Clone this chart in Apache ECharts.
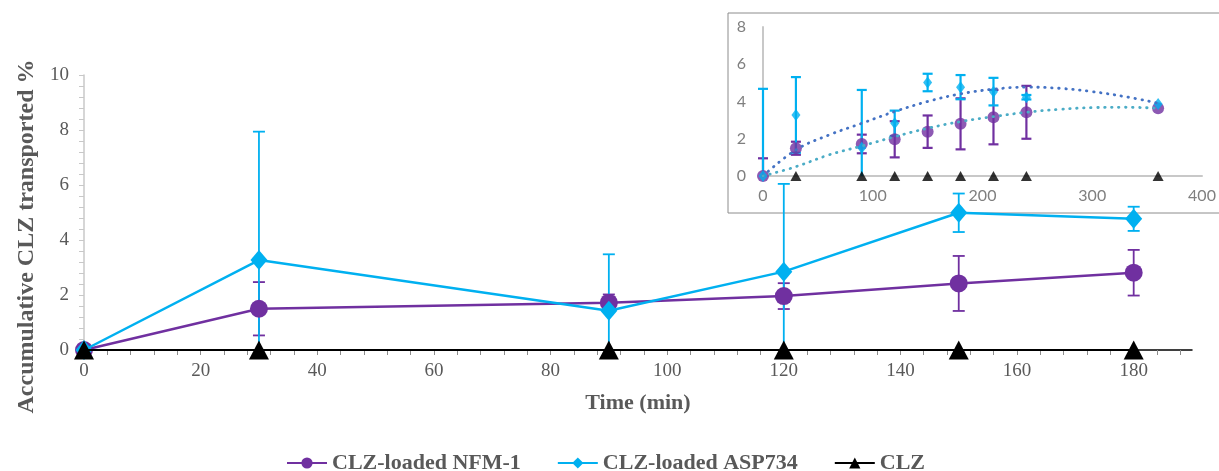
<!DOCTYPE html>
<html>
<head>
<meta charset="utf-8">
<script src="https://cdn.jsdelivr.net/npm/echarts@6/dist/echarts.min.js"></script>
<style>
html,body{margin:0;padding:0;background:#fff;}
#chart{width:1219px;height:471px;}
</style>
</head>
<body>
<div id="chart"></div>
<script>
// ---------- Main chart data ----------
const mainTimes = [0, 30, 90, 120, 150, 180];
const nfmMain = [0, 1.5, 1.72, 1.96, 2.42, 2.81];
const nfmMainErr = [0, 0.97, 0.3, 0.47, 1.0, 0.83];
const aspMain = [0, 3.27, 1.43, 2.85, 4.99, 4.77];
const aspMainErr = [0, 4.67, 2.05, 3.19, 0.7, 0.44];
const clzMain = [0, 0, 0, 0, 0, 0];

// ---------- Inset chart data ----------
const insetTimes = [0, 30, 90, 120, 150, 180, 210, 240, 360];
const nfmInset = [0, 1.49, 1.72, 1.97, 2.38, 2.8, 3.16, 3.42, 3.64];
const nfmInsetErr = [0.95, 0.35, 0.5, 0.97, 0.87, 1.37, 1.46, 1.42, 0];
const aspInset = [0, 3.28, 1.52, 2.83, 5.02, 4.77, 4.53, 4.23, 3.87];
const aspInsetErr = [4.68, 2.03, 3.1, 0.68, 0.47, 0.65, 0.74, 0.12, 0];
const clzInsetTimes = [30, 90, 120, 150, 180, 210, 240, 360];
const clzInset = [0, 0, 0, 0, 0, 0, 0, 0];

// trendlines
const trendTimes = [0, 30, 60, 90, 120, 150, 180, 210, 240, 270, 300, 330, 360];
const aspTrend = [0, 1.4, 2.2, 2.83, 3.46, 4.0, 4.41, 4.66, 4.77, 4.71, 4.53, 4.26, 3.91];
const nfmTrend = [0, 0.5, 1.13, 1.61, 2.11, 2.56, 2.92, 3.19, 3.42, 3.58, 3.67, 3.69, 3.64];

// ---------- Labels ----------
const seriesNames = ['CLZ-loaded NFM-1', 'CLZ-loaded ASP734', 'CLZ'];
const xTitle = 'Time (min)';
const yTitle = 'Accumulative CLZ transported %';

const PURPLE = '#7030A0', BLUE = '#00B0F0', BLACK = '#000000';
const SERIF = '"Liberation Serif", "Times New Roman", serif';
const SANS = 'Lato, "Open Sans", sans-serif';

function pairs(xs, ys) { return xs.map((x, i) => [x, ys[i]]); }
function triples(xs, ys, es) { return xs.map((x, i) => [x, ys[i], es[i]]); }

function errorSeries(data, color, gi, capW, lw) {
  return {
    type: 'custom',
    xAxisIndex: gi, yAxisIndex: gi,
    z: 2,
    silent: true,
    clip: false,
    data: data,
    renderItem: function (params, api) {
      const x = api.value(0), y = api.value(1), e = api.value(2);
      if (!e) return null;
      const lowV = Math.max(y - e, 0);
      const top = api.coord([x, y + e]);
      const bot = api.coord([x, lowV]);
      const style = { stroke: color, lineWidth: lw };
      const children = [
        { type: 'line', shape: { x1: top[0], y1: top[1], x2: bot[0], y2: bot[1] }, style: style },
        { type: 'line', shape: { x1: top[0] - capW / 2, y1: top[1], x2: top[0] + capW / 2, y2: top[1] }, style: style }
      ];
      if (y - e >= 0) {
        children.push({ type: 'line', shape: { x1: bot[0] - capW / 2, y1: bot[1], x2: bot[0] + capW / 2, y2: bot[1] }, style: style });
      }
      return { type: 'group', children: children };
    }
  };
}

const chart = echarts.init(document.getElementById('chart'), null, { renderer: 'canvas' });

const option = {
  backgroundColor: '#ffffff',
  animation: false,
  graphic: [{
    type: 'rect', z: 0, silent: true,
    shape: { x: 728, y: 13, width: 520, height: 200 },
    style: { fill: 'none', stroke: '#8c8c8c', lineWidth: 1 }
  }],
  legend: {
    data: seriesNames,
    left: 281,
    top: 447,
    itemWidth: 40,
    itemHeight: 14,
    itemGap: 36,
    textStyle: { fontFamily: SERIF, fontWeight: 'bold', fontSize: 22, color: '#595959' }
  },
  grid: [
    { left: 84, right: 27, top: 75, bottom: 121 },
    { left: 763, right: 17, top: 27, bottom: 295 }
  ],
  xAxis: [
    {
      type: 'value', gridIndex: 0, min: 0, max: 190, interval: 4,
      name: xTitle, nameLocation: 'middle', nameGap: 42,
      nameTextStyle: { fontFamily: SERIF, fontWeight: 'bold', fontSize: 22, color: '#595959' },
      axisLine: { show: true, onZero: false, lineStyle: { color: '#000', width: 1.5 } },
      axisTick: { show: true, length: 5, inside: false, lineStyle: { color: '#8c8c8c', width: 1 } },
      axisLabel: {
        margin: 12, fontFamily: SERIF, fontSize: 19, color: '#595959',
        showMaxLabel: false,
        formatter: function (v) { const r = Math.round(v); return (r % 20 === 0 && r <= 180) ? String(r) : ''; }
      },
      splitLine: { show: false }
    },
    {
      type: 'value', gridIndex: 1, min: 0, max: 400, interval: 100,
      axisLine: { show: true, onZero: false, lineStyle: { color: '#c8c8c8', width: 2 } },
      axisTick: { show: false },
      axisLabel: { margin: 12, fontFamily: SANS, fontSize: 16, color: '#7f7f7f' },
      splitLine: { show: false }
    }
  ],
  yAxis: [
    {
      type: 'value', gridIndex: 0, min: 0, max: 10, interval: 0.4,
      name: yTitle, nameLocation: 'middle', nameGap: 44, nameRotate: 90,
      nameTextStyle: { fontFamily: SERIF, fontWeight: 'bold', fontSize: 24, color: '#595959', padding: [0, 48, 0, 0] },
      axisLine: { show: true, lineStyle: { color: '#c8c8c8', width: 1.5 } },
      axisTick: { show: true, length: 5, inside: false, lineStyle: { color: '#c8c8c8', width: 1 } },
      axisLabel: {
        margin: 15, fontFamily: SERIF, fontSize: 19, color: '#595959',
        formatter: function (v) { const r = Math.round(v * 10) / 10; return (Math.abs(r % 2) < 1e-9) ? String(r) : ''; }
      },
      splitLine: { show: false }
    },
    {
      type: 'value', gridIndex: 1, min: 0, max: 8, interval: 2,
      axisLine: { show: true, lineStyle: { color: '#c8c8c8', width: 2 } },
      axisTick: { show: false },
      axisLabel: { margin: 17, fontFamily: SANS, fontSize: 16, color: '#7f7f7f' },
      splitLine: { show: false }
    }
  ],
  series: [
    // inset
    errorSeries(triples(insetTimes, nfmInset, nfmInsetErr), PURPLE, 1, 10, 2.2),
    errorSeries(triples(insetTimes, aspInset, aspInsetErr), BLUE, 1, 10, 2.2),
    {
      name: 'inset-nfm', type: 'scatter', xAxisIndex: 1, yAxisIndex: 1, z: 3,
      data: pairs(insetTimes, nfmInset), symbol: 'circle', symbolSize: 12,
      itemStyle: { color: PURPLE }, clip: false
    },
    {
      name: 'inset-asp', type: 'scatter', xAxisIndex: 1, yAxisIndex: 1, z: 3,
      data: pairs(insetTimes, aspInset), symbol: 'diamond', symbolSize: [9, 12],
      itemStyle: { color: BLUE }, clip: false
    },
    {
      name: 'inset-clz', type: 'scatter', xAxisIndex: 1, yAxisIndex: 1, z: 3,
      data: pairs(clzInsetTimes, clzInset), symbol: 'triangle', symbolSize: [11, 10],
      itemStyle: { color: BLACK }, clip: false
    },
    {
      name: 'inset-asp-trend', type: 'line', xAxisIndex: 1, yAxisIndex: 1, z: 4,
      data: pairs(trendTimes, aspTrend), smooth: 0.4, showSymbol: false, symbol: 'none',
      lineStyle: { color: '#4472C4', width: 2.8, type: [0.5, 6.5], cap: 'round' }
    },
    {
      name: 'inset-nfm-trend', type: 'line', xAxisIndex: 1, yAxisIndex: 1, z: 4,
      data: pairs(trendTimes, nfmTrend), smooth: 0.4, showSymbol: false, symbol: 'none',
      lineStyle: { color: '#4BACC6', width: 2.8, type: [0.5, 6.5], cap: 'round' }
    },
    // main
    errorSeries(triples(mainTimes, nfmMain, nfmMainErr), PURPLE, 0, 12, 1.8),
    errorSeries(triples(mainTimes, aspMain, aspMainErr), BLUE, 0, 12, 1.8),
    {
      name: seriesNames[0], type: 'line', xAxisIndex: 0, yAxisIndex: 0, z: 5,
      data: pairs(mainTimes, nfmMain), symbol: 'circle', symbolSize: 18, showSymbol: true,
      lineStyle: { color: PURPLE, width: 2.5 }, itemStyle: { color: PURPLE }, clip: false
    },
    {
      name: seriesNames[1], type: 'line', xAxisIndex: 0, yAxisIndex: 0, z: 6,
      data: pairs(mainTimes, aspMain), symbol: 'diamond', symbolSize: [17, 20], showSymbol: true,
      lineStyle: { color: BLUE, width: 2.5 }, itemStyle: { color: BLUE }, clip: false
    },
    {
      name: seriesNames[2], type: 'line', xAxisIndex: 0, yAxisIndex: 0, z: 7,
      data: pairs(mainTimes, clzMain), symbol: 'triangle', symbolSize: [20, 19], showSymbol: true,
      lineStyle: { color: BLACK, width: 2 }, itemStyle: { color: BLACK }, clip: false
    }
  ]
};
chart.setOption(option);
</script>
</body>
</html>
